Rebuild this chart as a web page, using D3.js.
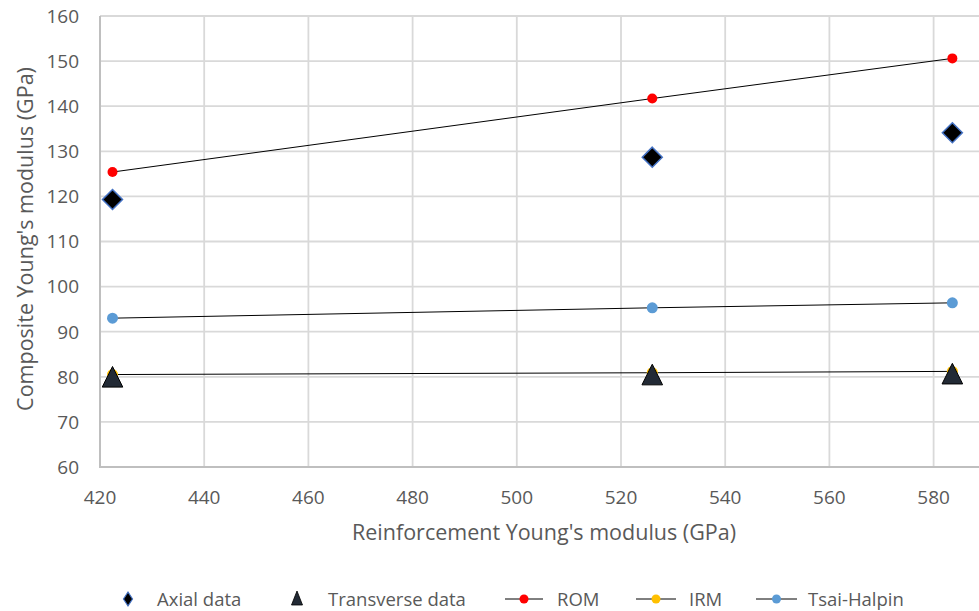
<!DOCTYPE html>
<html><head><meta charset="utf-8">
<script src="https://cdn.jsdelivr.net/npm/d3@7/dist/d3.min.js"></script>
<style>body{margin:0;background:#fff;} svg{display:block;font-family:"Open Sans","Noto Sans",sans-serif;}</style>
</head><body>
<svg id="c" width="979" height="611"></svg>
<script>
const xVals = [422.4, 526.0, 583.6];
const axial = [119.3, 128.7, 134.1];
const transverse = [80.0, 80.5, 80.7];
const rom = [125.4, 141.7, 150.6];
const irm = [80.5, 80.9, 81.2];
const tsai = [93.0, 95.3, 96.4];
const xTicks = [420, 440, 460, 480, 500, 520, 540, 560, 580];
const yTicks = [60, 70, 80, 90, 100, 110, 120, 130, 140, 150, 160];
const legendLabels = ["Axial data", "Transverse data", "ROM", "IRM", "Tsai-Halpin"];

const svg = d3.select("#c");
const x = d3.scaleLinear().domain([420, 600]).range([100, 1037.8]);
const y = d3.scaleLinear().domain([60, 160]).range([467, 16]);

const g = svg.append("g");
g.selectAll(".hg").data(yTicks).join("line")
  .attr("x1", 100).attr("x2", 979).attr("y1", d => y(d)).attr("y2", d => y(d))
  .attr("stroke", "#d9d9d9").attr("stroke-width", 1.8);
g.selectAll(".vg").data(xTicks).join("line")
  .attr("x1", d => x(d)).attr("x2", d => x(d)).attr("y1", y(160)).attr("y2", y(60))
  .attr("stroke", "#d9d9d9").attr("stroke-width", 1.8);
g.append("line").attr("x1", 100).attr("x2", 100).attr("y1", y(160)).attr("y2", y(60)).attr("stroke", "#bfbfbf").attr("stroke-width", 2);
g.append("line").attr("x1", 99).attr("x2", 979).attr("y1", y(60)).attr("y2", y(60)).attr("stroke", "#bfbfbf").attr("stroke-width", 2);

g.selectAll(".yl").data(yTicks).join("text")
  .attr("x", 79).attr("y", d => y(d)).attr("dy", "0.36em").attr("text-anchor", "end")
  .attr("font-size", 19).attr("fill", "#595959").text(d => d);
g.selectAll(".xl").data(xTicks).join("text")
  .attr("x", d => x(d)).attr("y", 504).attr("text-anchor", "middle")
  .attr("font-size", 19).attr("fill", "#595959").text(d => d);

svg.append("text").attr("x", 544).attr("y", 540).attr("text-anchor", "middle")
  .attr("font-size", 21.5).attr("fill", "#595959").text("Reinforcement Young's modulus (GPa)");
svg.append("text").attr("transform", "translate(33,239) rotate(-90)").attr("text-anchor", "middle")
  .attr("font-size", 21.5).attr("fill", "#595959").text("Composite Young's modulus (GPa)");

const line = d3.line().x(d => x(d[0])).y(d => y(d[1]));
function lineSeries(vals, color, r) {
  const pts = xVals.map((v, i) => [v, vals[i]]);
  g.append("path").attr("d", line(pts)).attr("fill", "none").attr("stroke", "#000").attr("stroke-width", 1);
  g.selectAll(null).data(pts).join("circle")
    .attr("cx", d => x(d[0])).attr("cy", d => y(d[1])).attr("r", r).attr("fill", color);
}
lineSeries(rom, "#ff0000", 5);
lineSeries(tsai, "#5b9bd5", 5.5);
lineSeries(irm, "#ffc000", 5.5);

function diamondPath(s) { return `M0,${-s}L${s},0L0,${s}L${-s},0Z`; }
function triPath(s) { return `M0,${-s}L${s},${s}L${-s},${s}Z`; }

g.selectAll(".ax").data(xVals.map((v, i) => [v, axial[i]])).join("path")
  .attr("transform", d => `translate(${x(d[0])},${y(d[1])})`).attr("d", diamondPath(10))
  .attr("fill", "#000").attr("stroke", "#4472c4").attr("stroke-width", 1.5);
g.selectAll(".tr").data(xVals.map((v, i) => [v, transverse[i]])).join("path")
  .attr("transform", d => `translate(${x(d[0])},${y(d[1])})`).attr("d", triPath(10.3))
  .attr("fill", "#222a35").attr("stroke", "#000").attr("stroke-width", 1);

const ly = 599;
const lg = svg.append("g");
lg.append("path").attr("transform", `translate(128,${ly})`).attr("d", "M0,-7L4.5,0L0,7L-4.5,0Z").attr("fill", "#000").attr("stroke", "#4472c4").attr("stroke-width", 1.2);
lg.append("path").attr("transform", `translate(297,${ly})`).attr("d", "M0,-8L5.5,6L-5.5,6Z").attr("fill", "#222a35").attr("stroke", "#000").attr("stroke-width", 0.8);
const lineItems = [[505, 543, "#ff0000"], [636, 676, "#ffc000"], [756, 797, "#5b9bd5"]];
lineItems.forEach(d => {
  lg.append("line").attr("x1", d[0]).attr("x2", d[1]).attr("y1", ly).attr("y2", ly).attr("stroke", "#000").attr("stroke-width", 1);
  lg.append("circle").attr("cx", (d[0] + d[1]) / 2).attr("cy", ly).attr("r", 4.5).attr("fill", d[2]);
});
const textX = [157, 328, 557, 689, 808];
lg.selectAll(".lt").data(legendLabels).join("text")
  .attr("x", (d, i) => textX[i]).attr("y", ly).attr("dy", "0.36em")
  .attr("font-size", 18.5).attr("fill", "#595959").text(d => d);
</script>
</body></html>
